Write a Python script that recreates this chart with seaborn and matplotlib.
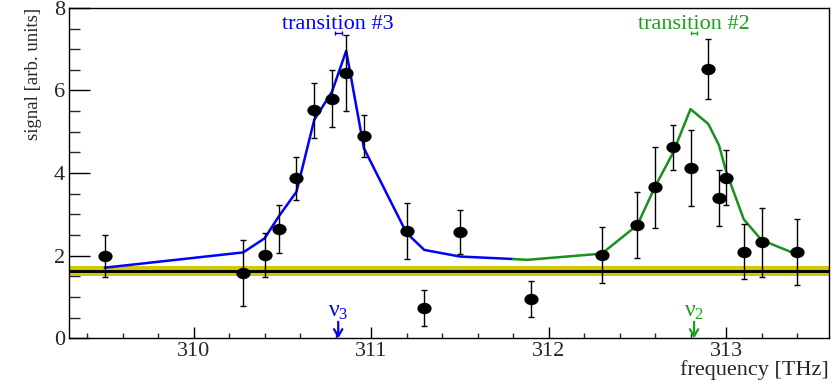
import matplotlib
matplotlib.use("Agg")
import matplotlib.pyplot as plt
import seaborn as sns
import pandas as pd
from matplotlib.ticker import MultipleLocator
from matplotlib.path import Path
from matplotlib.transforms import Affine2D

# ---- data ----
freq = [309.50, 310.28, 310.40, 310.48, 310.58, 310.68, 310.78, 310.86, 310.96,
        311.20, 311.30, 311.50, 311.90, 312.30, 312.50, 312.60, 312.70, 312.80,
        312.90, 312.96, 313.00, 313.10, 313.20, 313.40]
signal = [1.99, 1.59, 2.02, 2.64, 3.87, 5.52, 5.80, 6.43, 4.90,
          2.60, 0.74, 2.57, 0.95, 2.02, 2.74, 3.66, 4.62, 4.12,
          6.52, 3.40, 3.89, 2.10, 2.32, 2.10]
sig_err = [0.50, 0.80, 0.53, 0.58, 0.53, 0.67, 0.69, 0.92, 0.50,
           0.67, 0.43, 0.53, 0.43, 0.67, 0.80, 0.98, 0.54, 0.92,
           0.72, 0.67, 0.66, 0.67, 0.83, 0.80]

fit3_x = [309.50, 310.28, 310.40, 310.48, 310.58, 310.68, 310.78, 310.86, 310.96,
          311.20, 311.30, 311.50, 311.80]
fit3_y = [1.71, 2.08, 2.42, 2.95, 3.55, 5.29, 5.97, 6.96, 4.60,
          2.55, 2.14, 1.98, 1.92]

fit2_x = [311.80, 311.88, 312.30, 312.50, 312.60, 312.70, 312.80, 312.90, 312.96,
          313.00, 313.10, 313.20, 313.40]
fit2_y = [1.92, 1.90, 2.05, 2.74, 3.67, 4.48, 5.55, 5.19, 4.68,
          4.05, 2.88, 2.38, 2.03]

baseline = 1.64
band_lo, band_hi = 1.52, 1.75

trans_labels = ["transition #3", "transition #2"]
trans_nu = [310.815, 312.82]
trans_nu_err = [0.02, 0.018]
nu_labels = ["ν_{3}", "ν_{2}"]

BLUE = "#0000ff"
GREEN = "#17921d"
GREEN_TXT = "#1aa11a"

sns.set_style("white")
plt.rcParams["font.family"] = ["Liberation Serif", "DejaVu Serif"]
plt.rcParams["mathtext.fontset"] = "custom"
plt.rcParams["mathtext.rm"] = "Liberation Serif"

fig = plt.figure(figsize=(8.36, 3.83), dpi=100)
ax = fig.add_axes([0.0829, 0.1167, 0.9087, 0.8627])

xmin, xmax = 309.30, 313.58
ax.axhspan(band_lo, band_hi, color="#d2c800", lw=0, zorder=1)
ax.axhline(baseline, color="black", lw=2.1, zorder=2)

df3 = pd.DataFrame({"f": fit3_x, "s": fit3_y})
df2 = pd.DataFrame({"f": fit2_x, "s": fit2_y})
sns.lineplot(data=df3, x="f", y="s", ax=ax, color=BLUE, lw=1.8, sort=False,
             estimator=None, zorder=3)
sns.lineplot(data=df2, x="f", y="s", ax=ax, color=GREEN, lw=1.8, sort=False,
             estimator=None, zorder=3)

ax.errorbar(freq, signal, yerr=sig_err, fmt="none", ecolor="black",
            elinewidth=1.0, capsize=2.3, capthick=1.0, zorder=4)
ellipse = Path.unit_circle().transformed(Affine2D().scale(1.25, 1.0))
dfp = pd.DataFrame({"f": freq, "s": signal})
sns.scatterplot(data=dfp, x="f", y="s", ax=ax, color="black", s=105,
                marker=ellipse, edgecolor="black", linewidth=0, zorder=5)

cols = [BLUE, GREEN_TXT]
for lab, nu, nerr, nl, c in zip(trans_labels, trans_nu, trans_nu_err, nu_labels, cols):
    ax.text(nu, 7.50, lab, color=c, fontsize=16, ha="center", va="baseline")
    ax.errorbar([nu], [7.38], xerr=[nerr], fmt="none", ecolor=c,
                elinewidth=1.0, capsize=1.5, capthick=1.0)
    ax.annotate("", xy=(nu, 0.0), xytext=(nu, 0.40),
                arrowprops=dict(arrowstyle="->,head_length=0.5,head_width=0.3",
                                color=c, lw=1.6, shrinkA=0, shrinkB=0))
    ax.text(nu, 0.40, r"$\mathregular{" + nl + "}$", color=c, fontsize=17,
            ha="center", va="bottom")

ax.set_xlim(xmin, xmax)
ax.set_ylim(0, 8)
ax.xaxis.set_major_locator(MultipleLocator(1))
ax.xaxis.set_minor_locator(MultipleLocator(0.2))
ax.yaxis.set_major_locator(MultipleLocator(2))
ax.yaxis.set_minor_locator(MultipleLocator(0.5))

ax.tick_params(axis="x", which="major", direction="in", length=7.7, width=1,
               labelsize=16, pad=3, color="black", bottom=True, top=False)
ax.tick_params(axis="x", which="minor", direction="in", length=3.6, width=1,
               bottom=True, top=False)
ax.tick_params(axis="y", which="major", direction="in", length=15, width=1,
               labelsize=16, pad=3, color="black", left=True, right=False)
ax.tick_params(axis="y", which="minor", direction="in", length=7.7, width=1,
               left=True, right=False)

for sp in ax.spines.values():
    sp.set_color("black")
    sp.set_linewidth(1.0)
    sp.set_visible(True)

ax.set_xlabel("frequency [THz]", fontsize=16, loc="right")
ax.set_ylabel("signal [arb. units]", fontsize=13.5, loc="top")
ax.xaxis.set_label_coords(1.0, -0.066)
ax.yaxis.set_label_coords(-0.036, 1.0)

fig.savefig("out.png", dpi=100)
